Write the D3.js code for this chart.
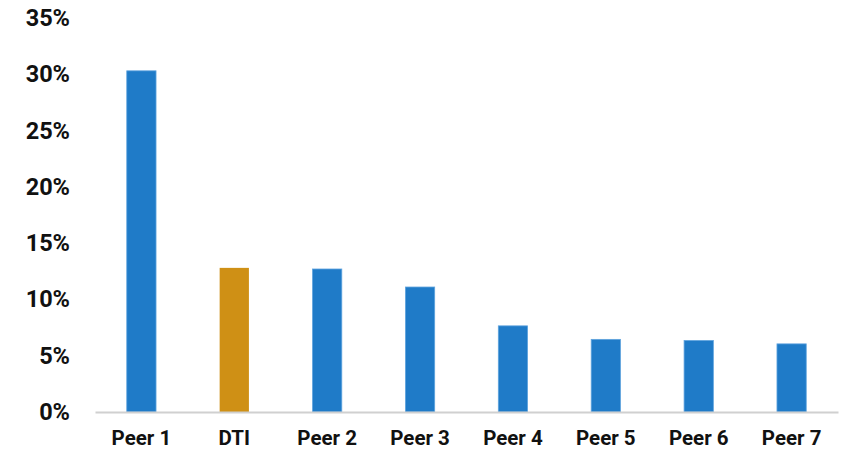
<!DOCTYPE html>
<html>
<head>
<meta charset="utf-8">
<script src="https://cdn.jsdelivr.net/npm/d3@7"></script>
<style>
  body { margin: 0; background: #fff; }
  text { font-family: Roboto, sans-serif; font-weight: bold; fill: #111; }
</style>
</head>
<body>
<div id="chart"></div>
<script>
// bar chart: share by company, DTI highlighted

var categories = ['Peer 1', 'DTI', 'Peer 2', 'Peer 3', 'Peer 4', 'Peer 5', 'Peer 6', 'Peer 7'];
var values = [30.3, 12.8, 12.7, 11.1, 7.65, 6.45, 6.35, 6.05];
var yTicks = [0, 5, 10, 15, 20, 25, 30, 35];

var width = 842, height = 451;
var margin = { top: 18, right: 4, bottom: 39, left: 95 };

var svg = d3.select('#chart').append('svg')
  .attr('width', width)
  .attr('height', height);

var x = d3.scaleBand()
  .domain(categories)
  .range([margin.left, width - margin.right])
  .paddingInner(0.685)
  .paddingOuter(0.342);

var y = d3.scaleLinear()
  .domain([0, 35])
  .range([height - margin.bottom, height - margin.bottom - 35 * 11.26]);

// y labels, no axis line
var yAxis = svg.append('g')
  .attr('transform', 'translate(70,0)')
  .call(d3.axisLeft(y).tickValues(yTicks).tickSize(0).tickPadding(0)
    .tickFormat(function(d) { return d + '%'; }));
yAxis.select('.domain').remove();
yAxis.selectAll('text').style('font-size', '23.5px');

// bars
svg.append('g').selectAll('rect')
  .data(values)
  .enter().append('rect')
  .attr('x', function(d, i) { return x(categories[i]); })
  .attr('y', function(d) { return y(d); })
  .attr('width', x.bandwidth())
  .attr('height', function(d) { return y(0) - y(d); })
  .attr('fill', function(d, i) { return categories[i] === 'DTI' ? '#CF9015' : '#1F7BC8'; })
  .attr('stroke', function(d, i) { return categories[i] === 'DTI' ? 'none' : '#5FA3DE'; })
  .attr('stroke-width', 0.8);

// baseline + category labels
var xAxis = svg.append('g')
  .attr('transform', 'translate(0,' + y(0) + ')')
  .call(d3.axisBottom(x).tickSize(0).tickPadding(18));
xAxis.select('.domain')
  .attr('stroke', '#d0d0d0')
  .attr('stroke-width', 2);
xAxis.selectAll('text').style('font-size', '20.5px');
</script>
</body>
</html>
